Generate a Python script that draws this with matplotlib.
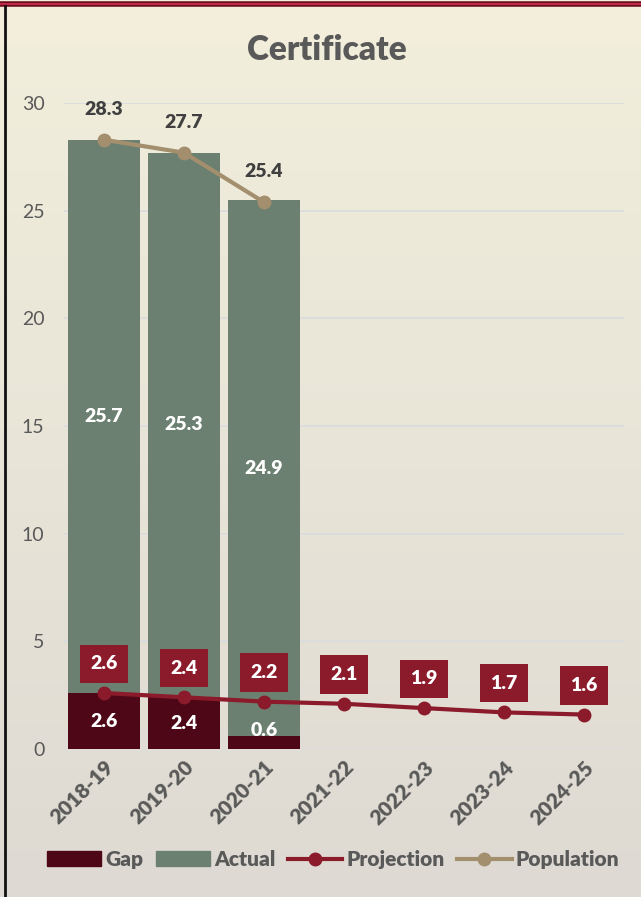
import matplotlib
matplotlib.use("Agg")
import matplotlib.pyplot as plt
import numpy as np
from matplotlib.lines import Line2D
from matplotlib.patches import Patch

# chart data
years = ["2018-19", "2019-20", "2020-21", "2021-22", "2022-23", "2023-24", "2024-25"]
gap = [2.6, 2.4, 0.6]
actual = [25.7, 25.3, 24.9]
projection = [2.6, 2.4, 2.2, 2.1, 1.9, 1.7, 1.6]
population = [28.3, 27.7, 25.4]

# colours
c_gap = "#4d0716"
c_actual = "#6b8070"
c_proj = "#8b1a2b"
c_pop = "#a38f6e"
c_text = "#595959"

plt.rcParams['font.family'] = ['Lato', 'DejaVu Sans']
bold = "heavy"

fig = plt.figure(figsize=(6.41, 8.97), dpi=100)

# background gradient
bg = fig.add_axes([0, 0, 1, 1], zorder=-10)
grad = np.linspace(0, 1, 256).reshape(-1, 1)
top = np.array([0xf3, 0xef, 0xdc]) / 255
bot = np.array([0xde, 0xda, 0xd3]) / 255
img = top[None, None, :] * (1 - grad[:, :, None]) + bot[None, None, :] * grad[:, :, None]
bg.imshow(img, aspect="auto", extent=[0, 1, 0, 1])
bg.axis("off")
# borders
bg.plot([0, 1], [0.9955, 0.9955], color="#6b0f1f", lw=4, solid_capstyle="butt")
bg.plot([0, 1], [0.9955, 0.9955], color="#c0284a", lw=1.5, solid_capstyle="butt")
bg.plot([0.0078, 0.0078], [0, 0.993], color="#111111", lw=2)
bg.set_xlim(0, 1)
bg.set_ylim(0, 1)

ax = fig.add_axes([0.0998, 0.165, 0.8737, 0.72])
ax.set_facecolor("none")
x = np.arange(len(years))
xb = x[:len(gap)]
w = 0.89

ax.bar(xb, gap, w, color=c_gap, zorder=2, label="Gap")
ax.bar(xb, actual, w, bottom=gap, color=c_actual, zorder=2, label="Actual")
ax.plot(x, projection, color=c_proj, lw=3, marker="o", ms=9, zorder=4, label="Projection")
ax.plot(xb, population, color=c_pop, lw=3, marker="o", ms=9, zorder=4, label="Population")

# labels
for i in range(len(gap)):
    ax.text(xb[i], max(gap[i] / 2, 0.85), f"{gap[i]:.1f}", ha="center", va="center",
            color="white", fontsize=14, fontweight=bold, zorder=5)
    ax.text(xb[i], gap[i] + actual[i] / 2, f"{actual[i]:.1f}", ha="center", va="center",
            color="white", fontsize=14, fontweight=bold, zorder=5)
    ax.annotate(f"{population[i]:.1f}", (xb[i], population[i]), xytext=(0, 22),
                textcoords="offset points", ha="center", va="center",
                color="#404040", fontsize=14, fontweight=bold, zorder=5)
for i in range(len(years)):
    ax.annotate(f"{projection[i]:.1f}", (x[i], projection[i]), xytext=(0, 21),
                textcoords="offset points", ha="center", va="center",
                color="white", fontsize=14, fontweight=bold, zorder=6,
                bbox=dict(boxstyle="square,pad=0.55", fc=c_proj, ec="none"))

ax.set_xlim(-0.5, len(years) - 0.5)
ax.set_ylim(0, 30)
ax.set_yticks([0, 5, 10, 15, 20, 25, 30])
ax.yaxis.grid(True, color="#d9dcdf", lw=1.2, zorder=0)
ax.set_axisbelow(True)
for s in ax.spines.values():
    s.set_visible(False)
ax.tick_params(axis="both", length=0, labelsize=14, colors=c_text)
ax.tick_params(axis="y", pad=14)
ax.set_xticks(x)
ax.set_xticklabels(years, rotation=45, ha="right", rotation_mode="anchor",
                   fontweight=bold, fontsize=15)
ax.tick_params(axis="x", pad=6)

fig.text(0.51, 0.944, "Certificate", ha="center", va="center", fontsize=24,
         fontweight=bold, color=c_text)

handles = [Patch(color=c_gap, label="Gap"),
           Patch(color=c_actual, label="Actual"),
           Line2D([], [], color=c_proj, lw=3, marker="o", ms=9, label="Projection"),
           Line2D([], [], color=c_pop, lw=3, marker="o", ms=9, label="Population")]
leg = fig.legend(handles=handles, loc="center", bbox_to_anchor=(0.52, 0.042), ncol=4,
                 frameon=False, handlelength=2.6, handletextpad=0.2, columnspacing=0.6,
                 prop={"size": 15, "weight": bold})
for t in leg.get_texts():
    t.set_color(c_text)

fig.savefig("out.png", dpi=100)
